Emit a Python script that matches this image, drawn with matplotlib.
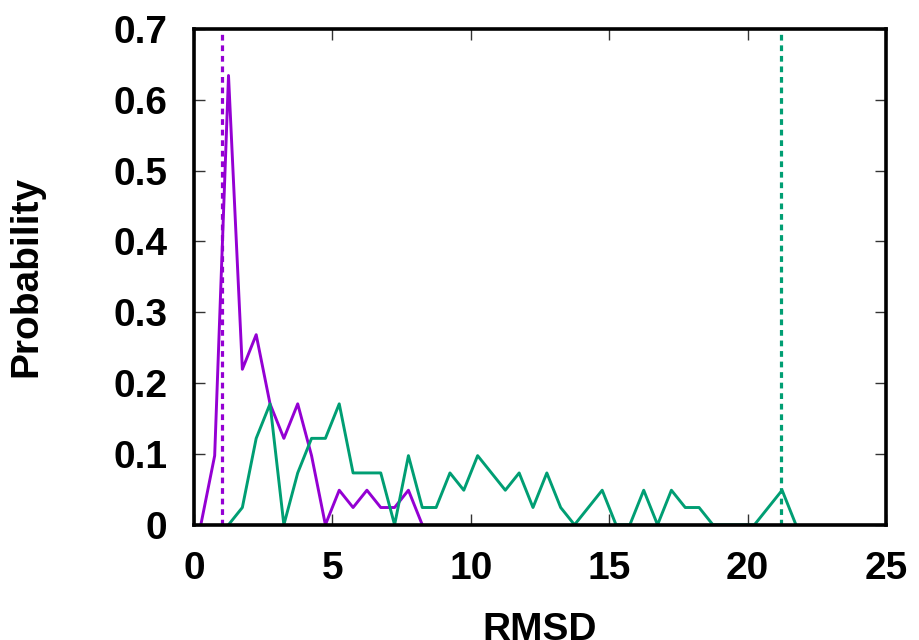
import numpy as np
import matplotlib
matplotlib.use('Agg')
import matplotlib.pyplot as plt

plt.rcParams['font.family'] = ['Liberation Sans', 'DejaVu Sans']
plt.rcParams['font.weight'] = 'bold'

# RMSD bin centres (bin width 0.5)
purple_x = [0.25, 0.75, 1.25, 1.75, 2.25, 2.75, 3.25, 3.75, 4.25, 4.75,
            5.25, 5.75, 6.25, 6.75, 7.25, 7.75, 8.25]
purple_y = [0.0, 0.0976, 0.6341, 0.2195, 0.2683, 0.1707, 0.1220, 0.1707, 0.0976, 0.0,
            0.0488, 0.0244, 0.0488, 0.0244, 0.0244, 0.0488, 0.0]

green_x = [1.25, 1.75, 2.25, 2.75, 3.25, 3.75, 4.25, 4.75, 5.25, 5.75,
           6.25, 6.75, 7.25, 7.75, 8.25, 8.75, 9.25, 9.75, 10.25, 10.75,
           11.25, 11.75, 12.25, 12.75, 13.25, 13.75, 14.25, 14.75, 15.25, 15.75,
           16.25, 16.75, 17.25, 17.75, 18.25, 18.75, 19.25, 19.75, 20.25, 20.75,
           21.25, 21.75]
green_y = [0.0, 0.0244, 0.1220, 0.1707, 0.0, 0.0732, 0.1220, 0.1220, 0.1707, 0.0732,
           0.0732, 0.0732, 0.0, 0.0976, 0.0244, 0.0244, 0.0732, 0.0488, 0.0976, 0.0732,
           0.0488, 0.0732, 0.0244, 0.0732, 0.0244, 0.0, 0.0244, 0.0488, 0.0, 0.0,
           0.0488, 0.0, 0.0488, 0.0244, 0.0244, 0.0, 0.0, 0.0, 0.0, 0.0244,
           0.0488, 0.0]

# reference RMSD markers
purple_ref = 1.0
green_ref = 21.2

PURPLE = '#9400d3'
GREEN = '#009e73'

fig = plt.figure(figsize=(9.19, 6.4), dpi=100)
ax = fig.add_axes([0.211, 0.180, 0.753, 0.775])

ax.plot(purple_x, purple_y, color=PURPLE, lw=2.1)
ax.plot(green_x, green_y, color=GREEN, lw=2.1)
ax.axvline(purple_ref, color=PURPLE, lw=2.3, linestyle=(0, (1.8, 1.5)))
ax.axvline(green_ref, color=GREEN, lw=2.3, linestyle=(0, (1.8, 1.5)))

ax.set_xlim(0, 25)
ax.set_ylim(0, 0.7)
ax.set_xticks(np.arange(0, 26, 5))
ax.set_yticks(np.arange(0, 0.71, 0.1))
ax.set_yticklabels(['0', '0.1', '0.2', '0.3', '0.4', '0.5', '0.6', '0.7'])

for s in ax.spines.values():
    s.set_linewidth(2.6)
ax.tick_params(direction='in', length=8, width=1.0, color='#333333',
               top=True, right=True, labelsize=28, pad=19)

ax.set_xlabel('RMSD', fontsize=28, fontweight='bold', labelpad=18)
ax.set_ylabel('Probability', fontsize=28, fontweight='bold', labelpad=50)

fig.savefig('out.png', dpi=100)
